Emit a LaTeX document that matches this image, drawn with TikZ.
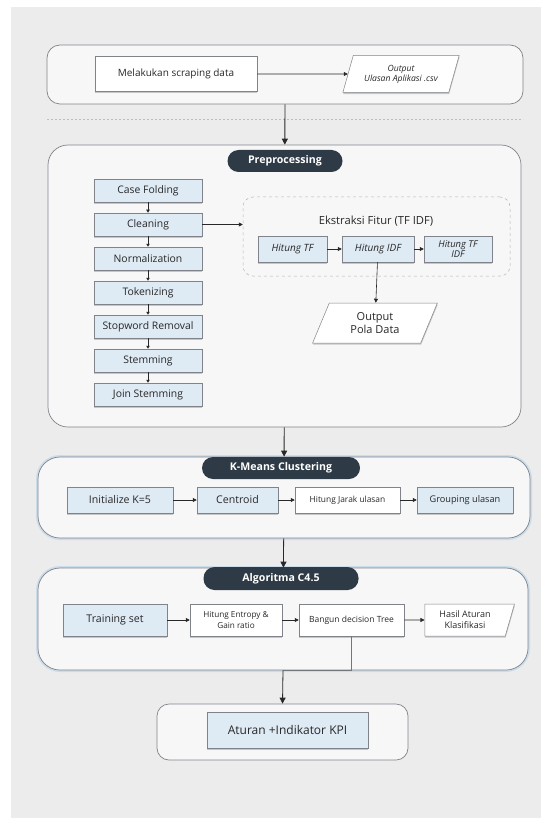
\documentclass[tikz,border=0pt]{standalone}
\usepackage{fontspec}
\setmainfont{Open Sans}
\usepackage{xcolor}
\usetikzlibrary{arrows.meta,calc,positioning,shapes.geometric,shadows}
\definecolor{pagebg}{RGB}{236,236,236}
\definecolor{panel}{RGB}{247,247,248}
\definecolor{rim}{RGB}{128,132,138}
\definecolor{boxblue}{RGB}{222,234,244}
\definecolor{pillfill}{RGB}{46,58,70}
\definecolor{glow}{RGB}{203,220,234}
\definecolor{ink}{RGB}{40,40,40}
\newcommand{\StepGap}{34}
\newcommand{\fs}[1]{\fontsize{#1}{#1}\selectfont}
\tikzset{
  panelbox/.style={draw=rim, fill=panel, line width=0.7pt, rounded corners=13pt, inner sep=0pt},
  glowpanel/.style={panelbox, rounded corners=22pt, preaction={draw=glow, line width=4pt}},
  pillbox/.style={fill=pillfill, text=white, rounded corners=11pt, minimum height=22pt,
    inner sep=0pt, font=\fs{10.6}\bfseries},
  shade/.style={drop shadow={shadow xshift=0.4pt, shadow yshift=-1.6pt, fill=black!45, opacity=0.45}},
  procbox/.style={draw=rim, fill=boxblue, line width=0.5pt, inner sep=1pt, align=center,
    text=ink, font=\fs{10}, shade},
  plainbox/.style={procbox, fill=white},
  iobox/.style={trapezium, trapezium left angle=68, trapezium right angle=112,
    trapezium stretches=true, draw=rim, fill=white, line width=0.5pt, inner sep=1pt,
    align=center, text=ink, shade},
  flowArrow/.style={-{Triangle[length=6pt,width=6pt]}, draw=ink, line width=0.8pt},
  stepArrow/.style={-{Triangle[length=4pt,width=4pt]}, draw=ink, line width=0.6pt},
  tinyArrow/.style={-{Triangle[length=3pt,width=3.4pt]}, draw=ink, line width=0.5pt}
}

\begin{document}
\begin{tikzpicture}[x=1pt,y=-1pt]
  % page
  \useasboundingbox (0,0) rectangle (541,818);
  \fill[pagebg] (11,7) rectangle (541,818);

  % scraping stage
  \node[panelbox, minimum width=476pt, minimum height=59pt] (scrapePanel) at (285,74.5) {};
  \node[plainbox, minimum width=162pt, minimum height=35pt] (scrape) at (176,74) {Melakukan scraping data};
  \node[iobox, minimum width=117pt, minimum height=37pt, font=\fs{8.6}\itshape]
    (csv) at (401,74) {Output\\[1.5pt]Ulasan Aplikasi .csv};
  \draw[stepArrow] (scrape) -- (csv);
  \draw[black!25, dash pattern=on 2pt off 2pt, line width=0.6pt] (47,119) -- (523,119);

  % preprocessing stage
  \node[panelbox, rounded corners=20pt, minimum width=473pt, minimum height=282pt] (prepPanel) at (284.5,286) {};
  \draw[flowArrow] (scrapePanel) -- (prepPanel);
  \node[pillbox, minimum width=115pt] (prepPill) at (285,161) {Preprocessing};
  \foreach \name/\txt [count=\i from 0] in {cf/Case Folding, cl/Cleaning, nm/Normalization,
      tk/Tokenizing, sw/Stopword Removal, st/Stemming, js/Join Stemming}{
    \node[procbox, minimum width=108pt, minimum height=23pt, font=\fs{10.4}] (\name) at (148,{190.5+\StepGap*\i}) {\txt};
  }
  \foreach \a/\b in {cf/cl, cl/nm, nm/tk, tk/sw, sw/st, st/js}{
    \draw[tinyArrow] (\a) -- (\b);
  }
  % feature extraction
  \node[draw=rim!60, dashed, fill=panel, rounded corners=10pt, line width=0.5pt,
    minimum width=267pt, minimum height=79pt] (tfidfPanel) at (376.5,236.5) {};
  \node[text=ink, font=\fs{11.2}] (tfidfTitle) at (376,221) {Ekstraksi Fitur (TF IDF)};
  \node[procbox, minimum width=69pt, minimum height=26pt, font=\fs{10}\itshape] (tf) at (292.5,249) {Hitung TF};
  \node[procbox, minimum width=72pt, minimum height=26pt, font=\fs{10}\itshape] (idf) at (378,249) {Hitung IDF};
  \node[procbox, minimum width=68pt, minimum height=26pt, font=\fs{9.4}\itshape] (tfxidf) at (458,249) {Hitung TF\\IDF};
  \draw[stepArrow] (tf) -- (idf);
  \draw[stepArrow] (idf) -- (tfxidf);
  \draw[stepArrow] (cl.east) -- (cl.east -| tfidfPanel.west);
  \node[iobox, minimum width=125pt, minimum height=40pt, font=\fs{11}] (pola) at (375,323) {Output\\[2pt]Pola Data};
  \draw[stepArrow] (idf) -- (pola);

  % k-means stage
  \node[glowpanel, minimum width=492pt, minimum height=81pt] (kmPanel) at (284,497.5) {};
  \draw[flowArrow] (prepPanel) -- (kmPanel);
  \node[pillbox, minimum width=158pt] (kmPill) at (281,468) {K-Means Clustering};
  \node[procbox, minimum width=106pt, minimum height=26pt, font=\fs{10.6}] (initk) at (120,500) {Initialize K=5};
  \node[procbox, minimum width=81pt, minimum height=26pt, font=\fs{10.6}] (centroid) at (237.5,500) {Centroid};
  \node[plainbox, minimum width=105pt, minimum height=26pt, font=\fs{8.4}] (jarak) at (347.5,500) {Hitung Jarak ulasan};
  \node[procbox, minimum width=96pt, minimum height=26pt, font=\fs{9.2}] (grouping) at (465,500) {Grouping ulasan};
  \draw[stepArrow] (initk) -- (centroid);
  \draw[stepArrow] (centroid) -- (jarak);
  \draw[stepArrow] (jarak) -- (grouping);

  % c4.5 stage
  \node[glowpanel, minimum width=490pt, minimum height=102pt] (c45Panel) at (283,619) {};
  \draw[flowArrow] (kmPanel) -- (c45Panel);
  \node[pillbox, minimum width=155pt, minimum height=23pt] (c45Pill) at (281,578.5) {Algoritma C4.5};
  \node[procbox, minimum width=104pt, minimum height=32pt, font=\fs{10.6}] (training) at (115,620) {Training set};
  \node[plainbox, minimum width=92pt, minimum height=32pt, font=\fs{8.2}] (entropy) at (236,620) {Hitung Entropy \&\\[2pt]Gain ratio};
  \node[plainbox, minimum width=105pt, minimum height=32pt, font=\fs{8.5}] (bangun) at (351.5,620) {Bangun decision Tree};
  \node[iobox, trapezium left angle=90, trapezium right angle=107, minimum width=90pt, minimum height=32pt,
    font=\fs{9}] (hasil) at (465,620) {Hasil Aturan\\[2pt]Klasifikasi};
  \draw[stepArrow] (training) -- (entropy);
  \draw[stepArrow] (entropy) -- (bangun);
  \draw[stepArrow] (bangun) -- (hasil);

  % final stage
  \node[panelbox, rounded corners=12pt, minimum width=251pt, minimum height=56pt] (kpiPanel) at (282.5,732) {};
  \node[procbox, minimum width=161pt, minimum height=36pt, font=\fs{12}] (kpi) at (287.5,730) {Aturan +Indikator KPI};
  \draw[rim!90!black, line width=0.8pt] (bangun.south) |- (c45Panel.south);
  \draw[flowArrow] (c45Panel.south) -- (kpiPanel.north);
\end{tikzpicture}
\end{document}
